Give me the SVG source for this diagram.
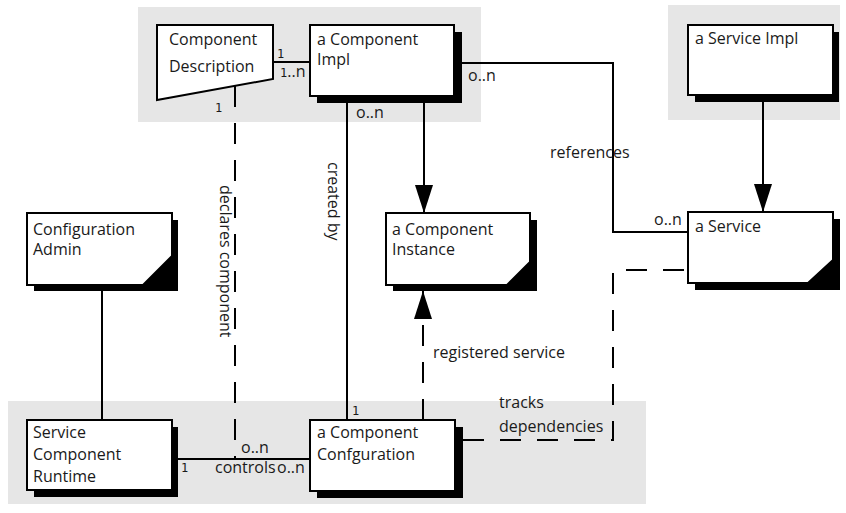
<svg xmlns="http://www.w3.org/2000/svg" width="846" height="513" viewBox="0 0 846 513">
<style>
.bg{fill:#e6e6e6;stroke:none}
.box{fill:#fff;stroke:#000;stroke-width:2}
.sh{fill:#000}
.t{font-family:"Open Sans","Liberation Sans",sans-serif;font-size:16px;fill:#1a1a1a}
.l{font-family:"Open Sans","Liberation Sans",sans-serif;font-size:16px;fill:#1a1a1a}
.m{font-family:"DejaVu Sans Mono","Liberation Mono",monospace;font-size:12px;fill:#1a1a1a}
.ln{fill:none;stroke:#000;stroke-width:2}
.da{fill:none;stroke:#000;stroke-width:2;stroke-dasharray:21 16}
</style>
<defs>
<marker id="arrh" markerUnits="userSpaceOnUse" markerWidth="28" markerHeight="18" viewBox="0 0 28 18" refX="28" refY="9" orient="auto">
<path d="M0,0 L28,9 L0,18 Z" fill="#000"/>
</marker>
</defs>
<g id="backgrounds">
<rect class="bg" x="138" y="7" width="343" height="115"/>
<rect class="bg" x="668" y="5" width="172" height="115"/>
<rect class="bg" x="8" y="401" width="638" height="103"/>
</g>
<g id="connectors">
<line class="ln" x1="273" y1="62" x2="310" y2="62"/>
<line class="da" x1="235" y1="86" x2="235" y2="459"/>
<line class="ln" x1="347" y1="96" x2="347" y2="420"/>
<line class="ln" x1="424" y1="96" x2="424" y2="213" marker-end="url(#arrh)"/>
<path class="ln" d="M454,63 H613 V232 H688"/>
<line class="ln" x1="763" y1="96" x2="763" y2="212" marker-end="url(#arrh)"/>
<line class="ln" x1="102" y1="285" x2="102" y2="420"/>
<line class="ln" x1="172" y1="459" x2="310" y2="459"/>
<line class="da" x1="423" y1="420" x2="423" y2="291" marker-end="url(#arrh)"/>
<path class="da" d="M463,440 H613 V270 H688"/>
<text class="m" x="277" y="58">1</text>
<text class="l" x="280" y="77"><tspan class="m">1</tspan>..n</text>
<text class="m" x="215" y="112">1</text>
<text class="l" x="356" y="118">o..n</text>
<text class="m" x="352" y="415">1</text>
<text class="l" x="468" y="81">o..n</text>
<text class="l" x="550" y="158">references</text>
<text class="l" x="654" y="225">o..n</text>
<text class="t" transform="translate(328,162) rotate(90)">created by</text>
<text class="t" transform="translate(220,185) rotate(90)">declares component</text>
<text class="l" x="433" y="358">registered service</text>
<text class="l" x="499" y="408">tracks</text>
<text class="l" x="499" y="432">dependencies</text>
<text class="m" x="181" y="472">1</text>
<text class="l" x="215" y="473">controls</text>
<text class="l" x="277" y="473">o..n</text>
<text class="l" x="241" y="453">o..n</text>
</g>
<g id="component-description">
<polygon class="box" points="157,25 273,25 273,79 157,100"/>
<text class="t" x="169" y="45">Component</text>
<text class="t" x="169" y="72">Description</text>
</g>
<g id="component-impl">
<rect class="sh" x="317" y="32" width="145" height="71"/>
<rect class="box" x="310" y="25" width="144" height="71"/>
<text class="t" x="317" y="45">a Component</text>
<text class="t" x="317" y="65">Impl</text>
</g>
<g id="service-impl">
<rect class="sh" x="695" y="32" width="144" height="70"/>
<rect class="box" x="688" y="25" width="145" height="70"/>
<text class="t" x="695" y="44">a Service Impl</text>
</g>
<g id="configuration-admin">
<rect class="sh" x="34" y="220" width="144" height="71"/>
<polygon class="box" points="27,213 172,213 172,256 143,285 27,285"/>
<text class="t" x="33" y="235">Configuration</text>
<text class="t" x="33" y="255">Admin</text>
</g>
<g id="component-instance">
<rect class="sh" x="393" y="220" width="144" height="71"/>
<polygon class="box" points="386,213 530,213 530,262 507,285 386,285"/>
<text class="t" x="392" y="235">a Component</text>
<text class="t" x="392" y="255">Instance</text>
</g>
<g id="service">
<rect class="sh" x="695" y="219" width="145" height="71"/>
<polygon class="box" points="688,212 833,212 833,260 808,283 688,283"/>
<text class="t" x="695" y="232">a Service</text>
</g>
<g id="service-component-runtime">
<rect class="sh" x="34" y="427" width="144" height="70"/>
<rect class="box" x="27" y="420" width="145" height="70"/>
<text class="t" x="33" y="438">Service</text>
<text class="t" x="33" y="460">Component</text>
<text class="t" x="33" y="482">Runtime</text>
</g>
<g id="component-configuration">
<rect class="sh" x="317" y="427" width="146" height="71"/>
<rect class="box" x="310" y="420" width="145" height="71"/>
<text class="t" x="317" y="438">a Component</text>
<text class="t" x="317" y="460">Confguration</text>
</g>
</svg>
